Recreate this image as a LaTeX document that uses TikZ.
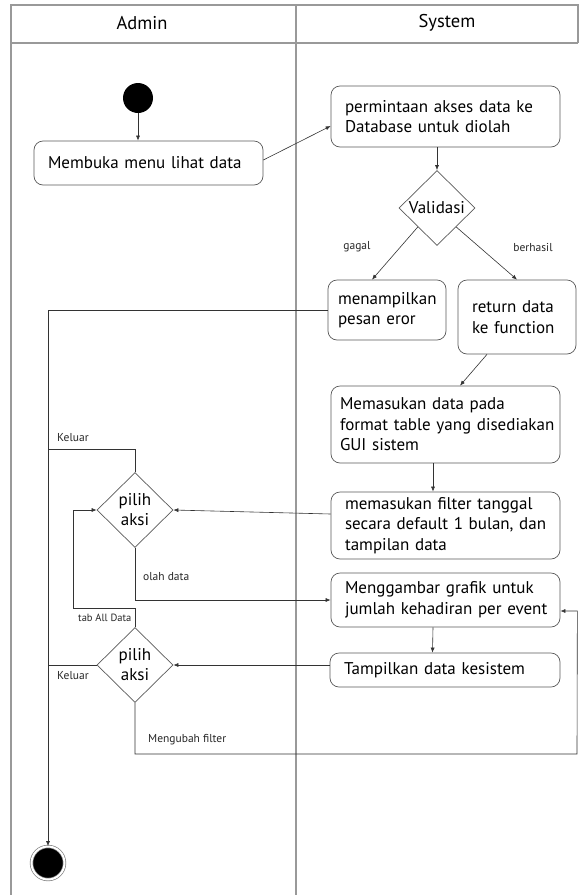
\documentclass[tikz,border=0pt]{standalone}
\usepackage{fontspec}
\setmainfont{PT Sans}
\usetikzlibrary{shapes.geometric,calc,arrows.meta}

% keep a line of an activity box on one line
\newcommand\keepline[1]{\mbox{#1}}

\begin{document}
\begin{tikzpicture}[x=1pt,y=-1pt,
  lane/.style={draw=black!40, line width=1.2pt},
  act/.style={draw=black!65, line width=0.7pt, rounded corners=9pt, align=left,
    font=\fontsize{17}{20.5}\selectfont, inner xsep=14pt, inner ysep=0pt},
  dec/.style={draw=black!65, line width=0.7pt, diamond, minimum width=76,
    minimum height=75, inner sep=0pt},
  dectext/.style={font=\fontsize{17}{20}\selectfont, align=center, inner sep=0pt},
  flow/.style={draw=black!80, line width=0.6pt},
  arr/.style={flow, -{Latex[length=5pt,width=4pt]}},
  lbl/.style={font=\fontsize{11.5}{13}\selectfont, inner sep=0pt, text=black!85},
  head/.style={font=\fontsize{18.5}{22}\selectfont, inner sep=0pt}
]
\useasboundingbox (0,0) rectangle (582,895);

% swimlanes
\draw[lane] (11,895) -- (11,5) -- (578,5) -- (578,43);
\draw[lane] (11,43) -- (578,43);
\draw[lane] (296,5) -- (296,895);
\node[head] (hadmin) at (142,23) {Admin};
\node[head] (hsystem) at (447,23) {System};

% start and end
\node[circle, fill=black, minimum size=30, inner sep=0pt] (start) at (138,98) {};
\node[circle, fill=black, draw=black!50, line width=0.7pt, double=white,
  double distance=2pt, minimum size=33, inner sep=0pt] (stop) at (48,863) {};

% activities
\node[act, text width=201, minimum height=44] (b1) at (148.5,163)
  {\keepline{Membuka menu lihat data}};
\node[act, text width=201, minimum height=61] (b2) at (445.5,116.5)
  {\keepline{permintaan akses data ke}\\\keepline{Database untuk diolah}};
\node[act, inner xsep=10pt, text width=98, minimum height=60] (b3) at (387,310)
  {\keepline{menampilkan}\\\keepline{pesan eror}};
\node[act, text width=90, minimum height=74] (b4) at (517,317)
  {\keepline{return data}\\\keepline{ke function}};
\node[act, text width=211, inner xsep=9pt, minimum height=77] (b5) at (445.5,424.5)
  {\keepline{Memasukan data pada}\\\keepline{format table yang disediakan}\\\keepline{GUI sistem}};
\node[act, text width=201, minimum height=67] (b6) at (445.5,525.5)
  {\keepline{memasukan filter tanggal}\\\keepline{secara default 1 bulan, dan}\\\keepline{tampilan data}};
\node[act, text width=201, minimum height=54] (b7) at (445.5,600)
  {\keepline{Menggambar grafik untuk}\\\keepline{jumlah kehadiran per event}};
\node[act, text width=202, minimum height=34] (b8) at (445,670)
  {\keepline{Tampilkan data kesistem}};

% decisions
\node[dec] (d1) at (437,208) {};
\node[dectext] (t1) at (d1.center) {Validasi};
\node[dec] (d2) at (135,510) {};
\node[dectext] (t2) at (d2.center) {pilih\\aksi};
\node[dec] (d3) at (135,665) {};
\node[dectext] (t3) at (d3.center) {pilih\\aksi};

% helper points for the loops
\coordinate (k1) at (135,449);
\coordinate (tab) at (73,608);
\coordinate (loop) at (577,754);

% flows
\draw[arr] (start) -- (start |- b1.north);
\draw[arr] ($(b1.east)+(0,-3)$) -- ($(b2.west)+(0,9.5)$);
\draw[arr] (d1.north |- b2.south) -- (d1.north);
\draw[arr] (d1.south west) -- ($(b3.north)+(-15,0)$);
\draw[arr] (d1.south east) -- (b4.north);
\draw[arr] ($(b4.south)+(-30,0)$) -- ($(b5.north)+(14.5,0)$);
\draw[arr] ($(b5.south)+(-12.5,0)$) -- ($(b6.north)+(-12.5,0)$);
\draw[arr] ($(b6.west)+(0,-11.5)$) -- (d2.east);
\draw[arr] ($(b7.south)+(-12.5,0)$) -- ($(b8.north)+(-12.5,0)$);
\draw[arr] (d3.east -| b8.west) -- (d3.east);
\draw[arr] (b3.west) -- (b3.west -| stop) -- (stop.north);
\draw[flow] (d2.north) -- (k1) -- (k1 -| stop);
\draw[flow] (d3.west) -- (d3.west -| stop);
\draw[arr] (d2.south) |- (b7.west);
\draw[arr] (d3.north) -- (d3.north |- tab) -- (tab) |- (d2.west);
\draw[arr] (d3.south) |- (loop) -- ($(b7.east)+(17,11)$) -- ($(b7.east)+(0,11)$);

% flow labels
\node[lbl] (lgagal) at (357,247) {gagal};
\node[lbl] (lberhasil) at (533,247) {berhasil};
\node[lbl, anchor=west] (lkeluar1) at (57,438) {Keluar};
\node[lbl, anchor=west] (lolah) at (143,577) {olah data};
\node[lbl, anchor=west, font=\fontsize{10.5}{12}\selectfont] (ltab) at (78,618) {tab All Data};
\node[lbl, anchor=west] (lkeluar2) at (57,676) {Keluar};
\node[lbl, anchor=west] (lubah) at (148,740) {Mengubah filter};
\end{tikzpicture}
\end{document}
